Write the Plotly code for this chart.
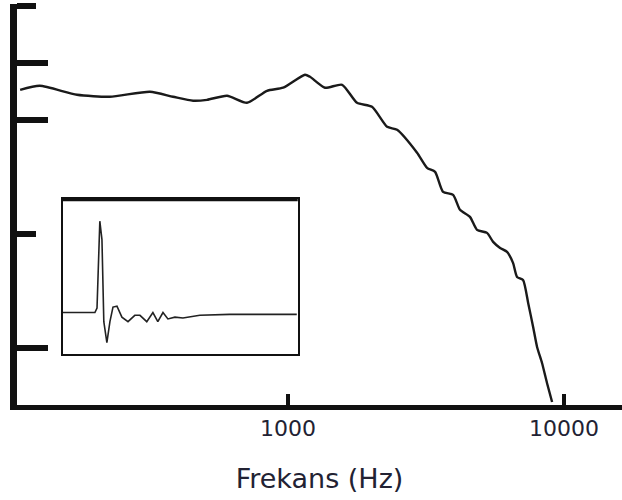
import plotly.graph_objects as go

# Frequency response (Hz, dB)
freq_hz = [107, 126, 172, 226, 316, 383, 453, 509, 601, 710, 839, 960, 1152, 1201,
           1361, 1570, 1778, 2015, 2285, 2483, 2934, 3189, 3410, 3645, 3964, 4199,
           4562, 4838, 5260, 5534, 5866, 6215, 6534, 6755, 7103, 7413, 7727, 7985,
           8322, 8674, 9051]
level_db = [27.63, 27.98, 27.19, 27.02, 27.46, 27.02, 26.67, 26.75, 27.11, 26.49,
            27.54, 27.81, 28.95, 28.77, 27.81, 28.07, 26.49, 26.14, 24.39, 24.12,
            22.11, 20.79, 20.44, 18.68, 18.42, 17.11, 16.49, 15.35, 15.09, 14.30,
            13.77, 13.42, 12.46, 11.23, 10.96, 8.95, 6.84, 5.09, 3.68, 1.93, 0.26]

# Inset impulse response (time in arbitrary units, normalised amplitude)
imp_t = [0, 13.6, 14.5, 15.3, 15.7, 16.6, 17.4, 18.7, 20.0, 21.3, 23.0, 25.1, 27.7,
         30.6, 32.8, 35.7, 38.3, 40.4, 42.6, 44.7, 47.7, 51.1, 58.3, 71, 99.6]
imp_a = [0, 0, 0.05, 0.9, 1.0, 0.8, -0.1, -0.33, -0.1, 0.06, 0.07, -0.05, -0.1,
         -0.03, -0.03, -0.1, 0.0, -0.1, 0.0, -0.07, -0.05, -0.06, -0.03, -0.02, -0.02]

x_ticks = [1000, 10000]
x_tick_text = ["1000", "10000"]
y_ticks_long = [30, 25, 5]
y_ticks_short = [35, 15]

ink = "#111111"
fig = go.Figure()
fig.add_trace(go.Scatter(x=freq_hz, y=level_db, mode="lines",
                         line=dict(color="#1a1a1a", width=2.4, shape="spline", smoothing=0.6),
                         showlegend=False, hoverinfo="skip"))
fig.add_trace(go.Scatter(x=imp_t, y=imp_a, mode="lines", xaxis="x2", yaxis="y2",
                         line=dict(color="#222222", width=1.6),
                         showlegend=False, hoverinfo="skip"))

fig.update_layout(
    width=622, height=500,
    margin=dict(l=17, r=0, t=4, b=95),
    paper_bgcolor="white", plot_bgcolor="white",
    font=dict(family="DejaVu Sans", color="#222222"),
    xaxis=dict(type="log", range=[2.018, 4.21], showgrid=False, zeroline=False,
               showline=True, linecolor=ink, linewidth=5,
               tickmode="array", tickvals=x_ticks, ticktext=x_tick_text,
               ticks="inside", ticklen=11, tickwidth=4, tickcolor=ink,
               tickfont=dict(size=22, color="#222233"), ticklabelstandoff=0,
               title=dict(text="Frekans (Hz)", font=dict(size=27, color="#222233"),
                          standoff=30)),
    yaxis=dict(range=[0, 35.15], showgrid=False, zeroline=False,
               showline=True, linecolor=ink, linewidth=7,
               tickmode="array", tickvals=y_ticks_long, showticklabels=False,
               ticks="inside", ticklen=31, tickwidth=6, tickcolor=ink,
               minor=dict(tickmode="array", tickvals=y_ticks_short, ticks="inside",
                          ticklen=19, tickwidth=6, tickcolor=ink)),
    xaxis2=dict(domain=[0.076, 0.464], anchor="y2", range=[0, 100],
                showgrid=False, zeroline=False, showticklabels=False, ticks="",
                showline=True, mirror=True, linecolor=ink, linewidth=2),
    yaxis2=dict(domain=[0.128, 0.513], anchor="x2", range=[-0.45, 1.24],
                showgrid=False, zeroline=False, showticklabels=False, ticks="",
                showline=True, mirror=True, linecolor=ink, linewidth=2),
)
fig.add_shape(type="line", xref="x2 domain", yref="y2 domain", x0=0, x1=1, y0=1, y1=1,
              line=dict(color=ink, width=4))

fig.write_html("out.html", config={"displayModeBar": False},
               post_script="document.body.style.margin='0';document.body.style.overflow='hidden';")
